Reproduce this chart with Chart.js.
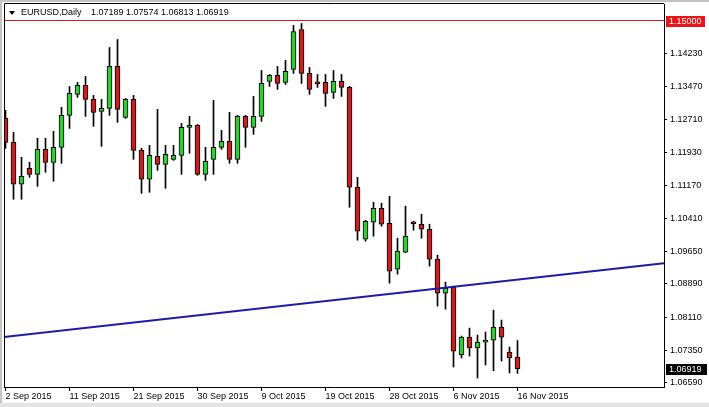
<!DOCTYPE html>
<html>
<head>
<meta charset="utf-8">
<title>EURUSD Daily</title>
<script src="https://cdn.jsdelivr.net/npm/chart.js@4.4.1/dist/chart.umd.min.js"></script>
<style>
  html, body { margin: 0; padding: 0; background: #fff; }
  #wrap { width: 709px; height: 407px; }
</style>
</head>
<body>
<div id="wrap"><canvas id="chartEurusd" width="709" height="407"></canvas></div>
<script>
// daily candles, 2 Sep 2015 .. 16 Nov 2015 (Sunday bars included)
const open = [
  1.12729, 1.12173, 1.11200, 1.11570, 1.11431, 1.12011, 1.11709, 1.12057, 1.12798, 1.13285,
  1.13494, 1.13169, 1.12891, 1.12961, 1.13934, 1.12752, 1.13169, 1.11987, 1.11316, 1.11848,
  1.11663, 1.11779, 1.11872, 1.12520, 1.12567, 1.11431, 1.11779, 1.12057, 1.12196, 1.11779,
  1.12775, 1.12520, 1.12775, 1.13586, 1.13725, 1.13563, 1.13864, 1.14791, 1.13772, 1.13540,
  1.13563, 1.13331, 1.13586, 1.13447, 1.11130, 1.09925, 1.10319, 1.10644, 1.10296, 1.09230,
  1.09624, 1.10296, 1.10273, 1.10157, 1.09462, 1.08674, 1.08813, 1.07238, 1.07655, 1.07400,
  1.07539, 1.07585, 1.07886, 1.07307, 1.07189
];
const high = [
  1.12915, 1.12405, 1.11825, 1.11709, 1.12266, 1.12266, 1.12428, 1.12984, 1.13470, 1.13563,
  1.13702, 1.13262, 1.13169, 1.14374, 1.14559, 1.13192, 1.13262, 1.12034, 1.12103, 1.12937,
  1.12103, 1.12103, 1.12613, 1.12775, 1.12590, 1.12057, 1.13146, 1.12451, 1.12868, 1.12798,
  1.12798, 1.13239, 1.13841, 1.13748, 1.13934, 1.14073, 1.14884, 1.14930, 1.13911, 1.13748,
  1.13748, 1.13841, 1.13748, 1.13470, 1.11362, 1.10366, 1.10783, 1.10760, 1.10922, 1.09949,
  1.10690, 1.10342, 1.10505, 1.10273, 1.09555, 1.08929, 1.08836, 1.07678, 1.07863, 1.07701,
  1.07771, 1.08280, 1.08049, 1.07423, 1.07574
];
const low = [
  1.12034, 1.10852, 1.10852, 1.11362, 1.11153, 1.11478, 1.11269, 1.11686, 1.12497, 1.13216,
  1.12775, 1.12544, 1.12080, 1.12798, 1.12636, 1.12729, 1.11779, 1.10991, 1.11014, 1.11524,
  1.11107, 1.11756, 1.11431, 1.11918, 1.11408, 1.11292, 1.11431, 1.12011, 1.11686, 1.11686,
  1.12057, 1.12358, 1.12659, 1.13470, 1.13401, 1.13517, 1.13772, 1.13540, 1.13285, 1.13447,
  1.13007, 1.13192, 1.13239, 1.10667, 1.09902, 1.09879, 1.09995, 1.10227, 1.08906, 1.09114,
  1.09610, 1.10134, 1.09949, 1.09300, 1.08373, 1.08303, 1.06960, 1.07168, 1.07214, 1.06705,
  1.07006, 1.06873, 1.07099, 1.06821, 1.06813
];
const close = [
  1.12173, 1.11200, 1.11385, 1.11431, 1.12011, 1.11709, 1.12057, 1.12798, 1.13308, 1.13494,
  1.13169, 1.12868, 1.12961, 1.13934, 1.12937, 1.13169, 1.11987, 1.11316, 1.11872, 1.11663,
  1.11895, 1.11872, 1.12520, 1.12567, 1.11431, 1.11733, 1.12057, 1.12196, 1.11779, 1.12775,
  1.12520, 1.12775, 1.13540, 1.13725, 1.13540, 1.13818, 1.14745, 1.13772, 1.13401, 1.13530,
  1.13308, 1.13586, 1.13447, 1.11130, 1.10111, 1.10342, 1.10644, 1.10273, 1.09184, 1.09647,
  1.09995, 1.10285, 1.10157, 1.09462, 1.08674, 1.08790, 1.07330, 1.07655, 1.07400, 1.07539,
  1.07585, 1.07886, 1.07655, 1.07168, 1.06919
];

const dateTicks = [0, 8, 16, 24, 32, 40, 48, 56, 64];
const dateLabels = ["2 Sep 2015", "11 Sep 2015", "21 Sep 2015", "30 Sep 2015", "9 Oct 2015",
                    "19 Oct 2015", "28 Oct 2015", "6 Nov 2015", "16 Nov 2015"];
const priceTicks = [1.06590, 1.07350, 1.08110, 1.08890, 1.09650, 1.10410,
                    1.11170, 1.11930, 1.12710, 1.13470, 1.14230];

const priceMin = 1.06496;
const priceMax = 1.15383;
const barMin = -0.1875;
const barMax = 82.3125;

const levelPrice = 1.15000;          // red horizontal line
const lastPrice = 1.06919;           // current bid
const trendX = [-0.1875, 82.3125];   // blue trendline
const trendY = [1.07655, 1.09369];

const header = "EURUSD,Daily";
const headerQuote = "1.07189 1.07574 1.06813 1.06919";

const FONT = { family: "'Liberation Sans', Arial, sans-serif", size: 9 };
const upColor = "#32cd32";
const downColor = "#cc1e1e";

const frame = {
  id: "frame",
  beforeDraw(chart) {
    let c = chart.ctx;
    c.save();
    c.fillStyle = "#ffffff";
    c.fillRect(0, 0, chart.width, chart.height);
    c.fillStyle = "#c4c4c4";
    c.fillRect(0, 0, chart.width, 2);
    c.fillRect(0, 0, 2, chart.height);
    c.fillStyle = "#e4e4e4";
    c.fillRect(0, 403, chart.width, 4);
    c.restore();
  },
  afterDraw(chart) {
    let c = chart.ctx;
    let a = chart.chartArea;
    let y = chart.scales.y;
    c.save();

    // left + top edges of the plot frame
    c.strokeStyle = "#000";
    c.lineWidth = 1;
    c.beginPath();
    c.moveTo(a.left + 0.5, a.bottom);
    c.lineTo(a.left + 0.5, a.top - 0.5);
    c.lineTo(a.right, a.top - 0.5);
    c.stroke();

    // header
    c.fillStyle = "#000";
    c.beginPath();
    c.moveTo(9, 11); c.lineTo(15, 11); c.lineTo(12, 15); c.closePath();
    c.fill();
    c.font = FONT.size + "px " + FONT.family;
    c.textBaseline = "middle";
    c.textAlign = "left";
    c.fillText(header, 21, 13);
    c.fillText(headerQuote, 91, 13);

    // price boxes
    let yl = Math.round(y.getPixelForValue(levelPrice));
    c.fillStyle = "#e8141a";
    c.fillRect(666, yl - 5, 39, 11);
    c.fillStyle = "#fff";
    c.fillText(levelPrice.toFixed(5), 669, yl + 0.5);

    let yb = Math.round(y.getPixelForValue(lastPrice));
    c.fillStyle = "#000";
    c.fillRect(666, yb - 5, 41, 11);
    c.fillStyle = "#fff";
    c.fillText(lastPrice.toFixed(5), 669, yb + 0.5);

    c.restore();
  }
};

let ctx = document.getElementById("chartEurusd");
window.chartInstance = new Chart(ctx, {
  type: "bar",
  data: {
    datasets: [
      {
        label: "body",
        data: open.map((o, i) => ({ x: i, y: [o, close[i]] })),
        backgroundColor: c => close[c.dataIndex] >= open[c.dataIndex] ? upColor : downColor,
        borderColor: "#000",
        borderWidth: 1,
        borderSkipped: false,
        barThickness: 5,
        minBarLength: 2,
        grouped: false,
        order: 1
      },
      {
        label: "wick",
        data: low.map((l, i) => ({ x: i, y: [l, high[i]] })),
        backgroundColor: "#000",
        borderWidth: 0,
        barThickness: 1,
        grouped: false,
        order: 2
      },
      {
        type: "line",
        label: "trend",
        data: trendX.map((x, i) => ({ x: x, y: trendY[i] })),
        borderColor: "#1c1ca6",
        borderWidth: 2,
        pointRadius: 0,
        order: 0
      },
      {
        type: "line",
        label: "level",
        data: [{ x: barMin, y: levelPrice }, { x: barMax, y: levelPrice }],
        borderColor: "#d01c1c",
        borderWidth: 1,
        pointRadius: 0,
        order: 3
      }
    ]
  },
  options: {
    responsive: false,
    animation: false,
    devicePixelRatio: 1,
    layout: { padding: { left: 4, top: 4, right: 0, bottom: 0 } },
    plugins: { legend: { display: false }, tooltip: { enabled: false } },
    scales: {
      x: {
        type: "linear",
        min: barMin,
        max: barMax,
        offset: false,
        afterBuildTicks: s => { s.ticks = dateTicks.map(v => ({ value: v })); },
        afterFit: s => { s.height = 20; s.paddingLeft = 0; s.paddingRight = 0; },
        ticks: {
          autoSkip: false,
          maxRotation: 0,
          minRotation: 0,
          align: "start",
          padding: 0,
          color: "#000",
          font: FONT,
          callback: (v, i) => dateLabels[i]
        },
        grid: { drawOnChartArea: false, drawTicks: true, tickLength: 4, color: "#000", offset: false },
        border: { display: true, color: "#000" }
      },
      y: {
        type: "linear",
        position: "right",
        min: priceMin,
        max: priceMax,
        afterBuildTicks: s => { s.ticks = priceTicks.map(v => ({ value: v })); },
        afterFit: s => { s.width = 45; s.paddingTop = 0; s.paddingBottom = 0; },
        ticks: {
          padding: 3,
          color: "#000",
          font: FONT,
          callback: v => Number(v).toFixed(5)
        },
        grid: { drawOnChartArea: false, drawTicks: true, tickLength: 3, color: "#000" },
        border: { display: true, color: "#000" }
      }
    }
  },
  plugins: [frame]
});
</script>
</body>
</html>
